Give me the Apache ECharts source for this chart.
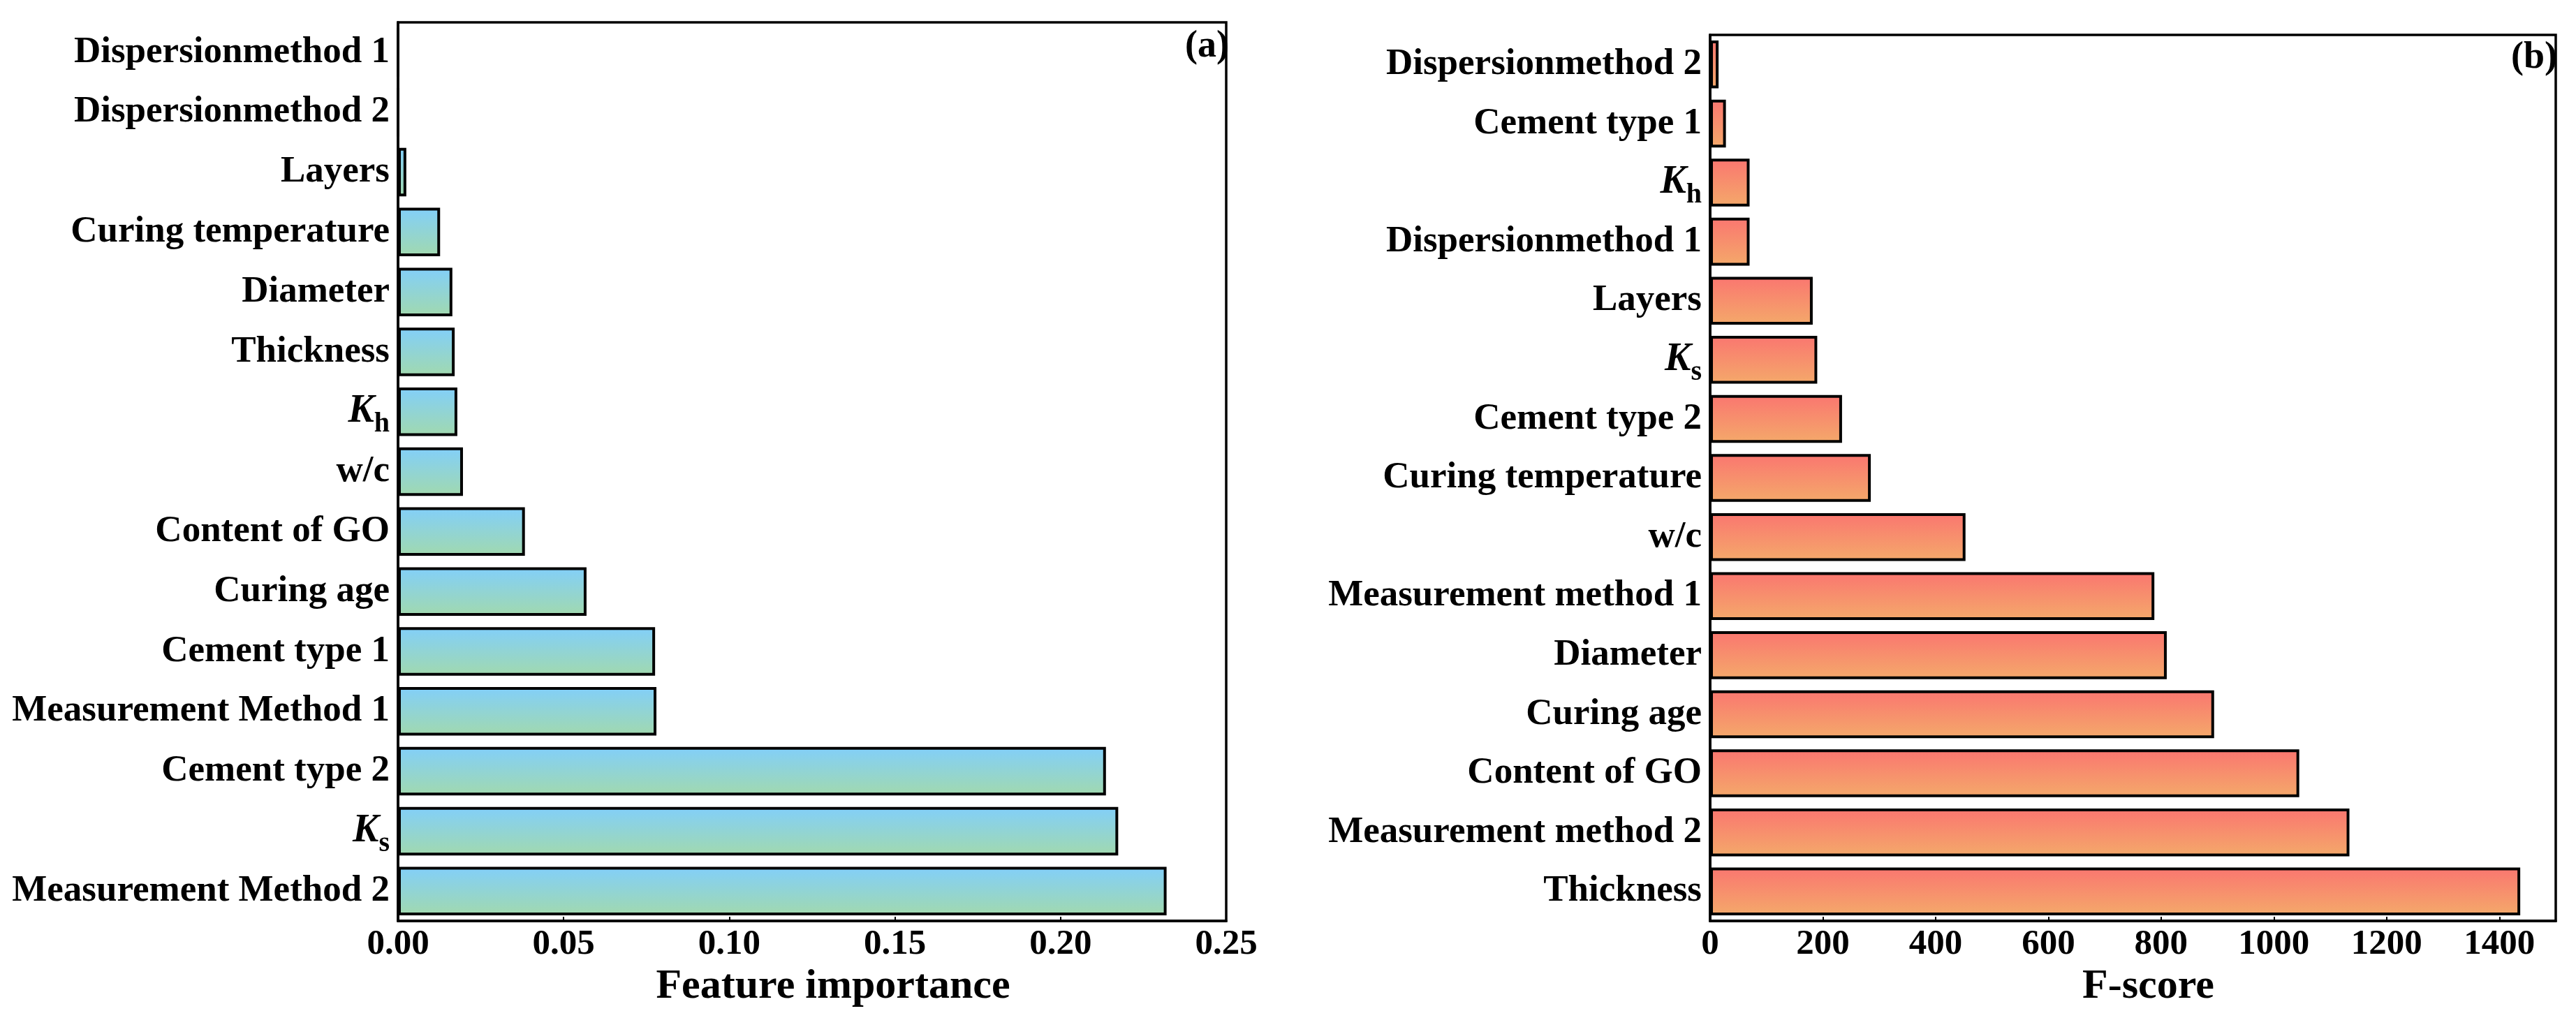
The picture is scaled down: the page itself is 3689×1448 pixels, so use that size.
<!DOCTYPE html>
<html>
<head>
<meta charset="utf-8">
<script src="https://cdn.jsdelivr.net/npm/echarts@6/dist/echarts.min.js"></script>
<style>
html,body{margin:0;padding:0;background:#fff;}
#chart{width:3689px;height:1448px;}
</style>
</head>
<body>
<div id="chart"></div>
<script>
// Panel (a): feature importance (bottom to top)
const catsA = ['Measurement Method 2','K_s','Cement type 2','Measurement Method 1','Cement type 1','Curing age','Content of GO','w/c','K_h','Thickness','Diameter','Curing temperature','Layers','Dispersionmethod 2','Dispersionmethod 1'];
const valsA = [0.2320, 0.2174, 0.2137, 0.0780, 0.0776, 0.0569, 0.0383, 0.0196, 0.0179, 0.0171, 0.0164, 0.0127, 0.0025, 0, 0];
// Panel (b): F-score (bottom to top)
const catsB = ['Thickness','Measurement method 2','Content of GO','Curing age','Diameter','Measurement method 1','w/c','Curing temperature','Cement type 2','K_s','Layers','Dispersionmethod 1','K_h','Cement type 1','Dispersionmethod 2'];
const valsB = [1437, 1134, 1045, 894, 810, 788, 453, 285, 234, 190, 182, 70, 70, 28, 15];
const ticksA = [0, 0.05, 0.10, 0.15, 0.20, 0.25];
const ticksB = [0, 200, 400, 600, 800, 1000, 1200, 1400];

const FONT = 'Liberation Serif, Times New Roman, serif';
const chart = echarts.init(document.getElementById('chart'));

function catFmt(v){
  if (v.indexOf('K_') === 0) return '{k|K}{s|' + v.slice(2) + '}';
  return v;
}
const catLabel = {
  fontFamily: FONT, fontWeight: 'bold', fontSize: 53, color: '#000', margin: 12,
  formatter: catFmt,
  rich: {
    k: {fontFamily: FONT, fontWeight: 'bold', fontStyle: 'italic', fontSize: 56, color: '#000', lineHeight: 76},
    s: {fontFamily: FONT, fontWeight: 'bold', fontSize: 40, color: '#000', lineHeight: 26, verticalAlign: 'bottom'}
  }
};
const valLabel = {fontFamily: FONT, fontWeight: 'bold', fontSize: 51, color: '#000', margin: 8};
const nameStyle = {fontFamily: FONT, fontWeight: 'bold', fontSize: 60, color: '#000', padding: [0, 0, 0, 60]};

const gradA = new echarts.graphic.LinearGradient(0,0,0,1,[{offset:0,color:'#82CFFA'},{offset:1,color:'#A1D9AE'}]);
const gradB = new echarts.graphic.LinearGradient(0,0,0,1,[{offset:0,color:'#FA7670'},{offset:1,color:'#F4A96A'}]);

chart.setOption({
  backgroundColor: '#fff',
  animation: false,
  grid: [
    {left: 570, right: 3689-1756, top: 32, bottom: 1448-1327, show: true, borderColor: '#000', borderWidth: 3.5},
    {left: 2449, right: 3689-3660, top: 50, bottom: 1448-1321, show: true, borderColor: '#000', borderWidth: 3.5}
  ],
  xAxis: [
    {type: 'value', gridIndex: 0, min: ticksA[0], max: ticksA[ticksA.length-1], interval: ticksA[1]-ticksA[0],
     name: 'Feature importance', nameLocation: 'middle', nameGap: 44, nameTextStyle: nameStyle,
     axisLine: {show: true, lineStyle: {color: '#000', width: 3.5}},
     axisTick: {show: true, inside: true, length: 6, lineStyle: {color: '#000', width: 2}},
     splitLine: {show: false},
     axisLabel: Object.assign({}, valLabel, {formatter: v => v.toFixed(2)})},
    {type: 'value', gridIndex: 1, min: ticksB[0], max: 1500, interval: ticksB[1]-ticksB[0],
     name: 'F-score', nameLocation: 'middle', nameGap: 44, nameTextStyle: Object.assign({}, nameStyle, {padding: [0, 0, 0, 44]}),
     axisLine: {show: true, lineStyle: {color: '#000', width: 3.5}},
     axisTick: {show: true, inside: true, length: 6, lineStyle: {color: '#000', width: 2}},
     splitLine: {show: false},
     axisLabel: Object.assign({}, valLabel, {showMaxLabel: false, formatter: v => (ticksB.indexOf(v) >= 0 ? String(v) : '')})}
  ],
  yAxis: [
    {type: 'category', gridIndex: 0, data: catsA, axisLine: {show: true, lineStyle: {color: '#000', width: 3.5}},
     axisTick: {show: false}, axisLabel: catLabel},
    {type: 'category', gridIndex: 1, data: catsB, axisLine: {show: true, lineStyle: {color: '#000', width: 3.5}},
     axisTick: {show: false}, axisLabel: catLabel}
  ],
  series: [
    {type: 'bar', xAxisIndex: 0, yAxisIndex: 0, data: valsA, barCategoryGap: '19%',
     itemStyle: {color: gradA, borderColor: '#000', borderWidth: 4}},
    {type: 'bar', xAxisIndex: 1, yAxisIndex: 1, data: valsB, barCategoryGap: '19%',
     itemStyle: {color: gradB, borderColor: '#000', borderWidth: 4}}
  ],
  graphic: [
    {type: 'text', right: 3689-1760, top: 40, style: {text: '(a)', fontFamily: FONT, fontWeight: 'bold', fontSize: 54, fill: '#000'}},
    {type: 'text', right: 3689-3662, top: 56, style: {text: '(b)', fontFamily: FONT, fontWeight: 'bold', fontSize: 54, fill: '#000'}}
  ]
});
</script>
</body>
</html>
